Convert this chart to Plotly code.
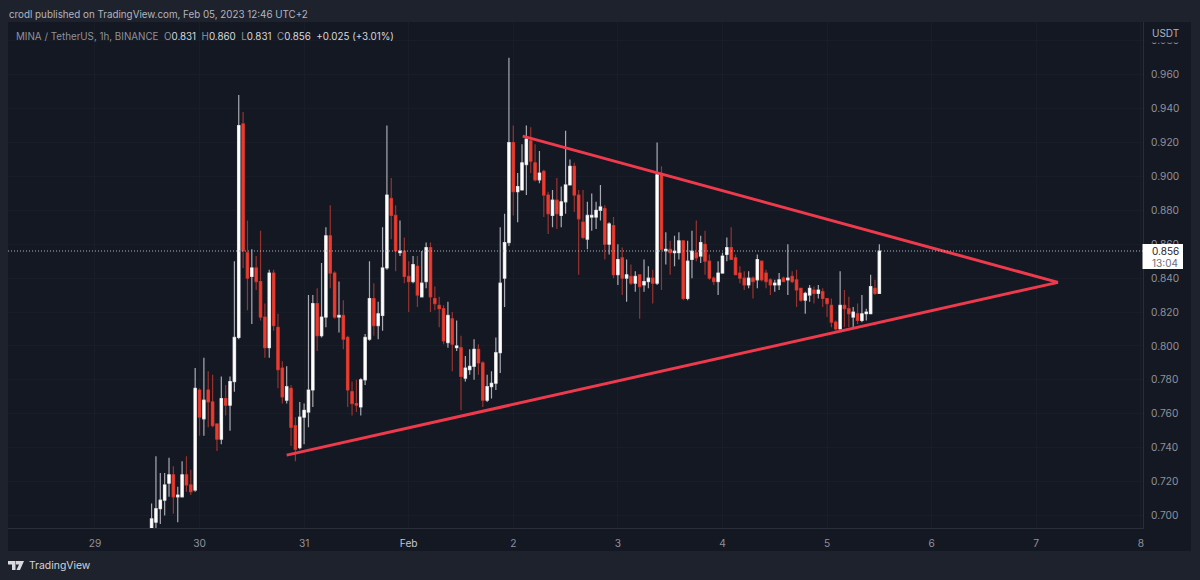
"""
MINA / USDT 1h chart with a symmetrical triangle, TradingView snapshot style.
"""
import pandas as pd
import plotly.graph_objects as go

# Candles, prices in thousandths of a USDT, one per hour
FIRST_CANDLE = "2023-01-29 13:00"
opens = [
    691, 696, 704, 709, 719, 724, 711, 711, 724, 718, 715, 774, 757, 774, 767, 754, 745, 769, 765, 779,
    805, 931, 855, 841, 846, 838, 817, 799, 843, 811, 787, 768, 775, 753, 740, 758, 761, 774, 825, 806,
    817, 865, 843, 817, 818, 805, 773, 766, 764, 780, 804, 828, 812, 818, 846, 887, 877, 855, 856, 841,
    838, 847, 829, 838, 858, 828, 824, 822, 802, 816, 799, 799, 781, 786, 788, 798, 790, 768, 776, 778,
    796, 840, 861, 920, 891, 892, 907, 921, 908, 898, 903, 889, 877, 886, 877, 885, 895, 906, 889, 873,
    863, 876, 876, 880, 881, 860, 871, 842, 852, 840, 841, 837, 842, 836, 838, 840, 837, 901, 856, 857,
    855, 855, 862, 828, 851, 855, 853, 860, 850, 840, 838, 843, 854, 858, 852, 843, 840, 836, 840, 839,
    850, 843, 839, 836, 836, 840, 839, 841, 839, 834, 827, 830, 833, 831, 832, 828, 824, 814, 810, 824,
    822, 817, 819, 815, 819, 819, 834, 831,
]
closes = [
    698, 704, 709, 718, 724, 711, 712, 724, 718, 714, 775, 758, 768, 767, 753, 745, 769, 765, 779, 805,
    930, 856, 840, 846, 838, 817, 799, 843, 812, 786, 770, 776, 752, 739, 758, 762, 774, 825, 806, 817,
    865, 843, 817, 818, 804, 774, 766, 765, 780, 805, 828, 812, 819, 846, 889, 877, 856, 856, 841, 838,
    848, 830, 837, 858, 829, 825, 822, 803, 818, 801, 800, 782, 787, 788, 798, 790, 768, 776, 778, 796,
    837, 861, 920, 891, 894, 908, 922, 909, 898, 902, 889, 878, 886, 878, 885, 895, 906, 889, 875, 864,
    877, 877, 880, 882, 860, 872, 842, 851, 840, 842, 837, 841, 835, 838, 840, 837, 901, 857, 857, 855,
    856, 862, 828, 850, 856, 852, 861, 850, 840, 838, 843, 853, 858, 851, 842, 840, 836, 840, 838, 851,
    839, 838, 836, 837, 839, 838, 840, 838, 833, 827, 831, 834, 831, 833, 828, 825, 814, 810, 824, 822,
    819, 820, 815, 819, 820, 835, 831, 856,
]
highs = [
    707, 735, 725, 725, 734, 729, 717, 732, 735, 727, 787, 775, 793, 785, 783, 754, 782, 777, 782, 850,
    948, 938, 874, 857, 853, 868, 825, 845, 845, 819, 791, 788, 777, 758, 767, 766, 830, 830, 834, 849,
    870, 883, 844, 838, 827, 806, 779, 780, 781, 807, 850, 837, 826, 870, 930, 899, 883, 874, 864, 850,
    853, 853, 856, 861, 861, 835, 829, 824, 826, 820, 815, 806, 794, 798, 804, 801, 791, 783, 785, 805,
    870, 878, 970, 930, 902, 919, 930, 929, 919, 915, 904, 891, 892, 899, 894, 927, 910, 908, 892, 892,
    885, 890, 885, 895, 883, 873, 876, 860, 858, 851, 848, 844, 842, 851, 847, 845, 920, 906, 867, 862,
    865, 867, 862, 862, 868, 874, 865, 868, 854, 841, 850, 855, 864, 870, 854, 847, 844, 844, 841, 854,
    850, 845, 840, 839, 843, 841, 860, 844, 845, 834, 832, 836, 835, 836, 834, 828, 828, 815, 844, 833,
    829, 823, 825, 830, 822, 842, 839, 860,
]
lows = [
    688, 690, 695, 700, 711, 701, 696, 711, 714, 712, 714, 747, 747, 752, 752, 738, 742, 759, 750, 773,
    804, 846, 821, 813, 833, 815, 793, 793, 809, 775, 766, 766, 741, 732, 739, 742, 752, 764, 797, 805,
    811, 834, 816, 808, 798, 764, 759, 761, 759, 777, 803, 806, 804, 809, 845, 863, 844, 853, 837, 820,
    837, 823, 829, 834, 820, 821, 811, 801, 799, 785, 797, 762, 779, 783, 780, 783, 764, 767, 769, 774,
    784, 823, 859, 877, 873, 892, 889, 902, 897, 896, 876, 866, 870, 869, 870, 878, 895, 879, 842, 863,
    857, 868, 869, 874, 851, 854, 840, 836, 830, 826, 836, 832, 816, 832, 834, 825, 836, 833, 848, 842,
    847, 851, 827, 827, 840, 850, 849, 842, 839, 836, 830, 843, 850, 851, 842, 837, 833, 834, 828, 834,
    838, 834, 830, 832, 833, 838, 830, 837, 823, 826, 819, 826, 825, 828, 823, 817, 811, 809, 810, 811,
    811, 811, 813, 814, 815, 819, 830, 831,
]

# Triangle drawn by the author
upper_line_times = ["2023-02-02 02:10", "2023-02-07 05:00"]
upper_line_prices = [0.9238, 0.8375]
lower_line_times = ["2023-01-30 20:00", "2023-02-07 05:00"]
lower_line_prices = [0.7356, 0.8375]

LAST_PRICE = 0.856
price_ticks = [0.700, 0.720, 0.740, 0.760, 0.780, 0.800, 0.820, 0.840, 0.860,
               0.880, 0.900, 0.920, 0.940, 0.960, 0.980]
day_ticks = ["2023-01-29", "2023-01-30", "2023-01-31", "2023-02-01", "2023-02-02",
             "2023-02-03", "2023-02-04", "2023-02-05", "2023-02-06", "2023-02-07", "2023-02-08"]
day_labels = ["29", "30", "31", "<span style='color:#c4c6cc'>Feb</span>", "2", "3", "4", "5", "6", "7", "8"]

# Colours
OUTER_BG = "#1e222d"
PANEL_BG = "#141823"
GRID = "#191d28"
BORDER = "#2a2e39"
RED = "#ee3b2e"
RED_WICK = "#96332f"
WHITE_WICK = "#a9abb2"
LINE_RED = "#ee3a4c"
FONT = "Inter, Roboto, sans-serif"

# Plot frame in page pixels
LEFT, RIGHT, TOP, BOTTOM = 8, 1143, 22, 528


def paper_x(px):
    return (px - LEFT) / (RIGHT - LEFT)


def paper_y(py):
    return (BOTTOM - py) / (BOTTOM - TOP)


times = pd.date_range(FIRST_CANDLE, periods=len(opens), freq="h")
o = [v / 1000 for v in opens]
c = [v / 1000 for v in closes]

fig = go.Figure()

# Wicks first, dimmer than the bodies
fig.add_trace(go.Candlestick(
    x=times,
    open=o,
    high=[v / 1000 for v in highs],
    low=[v / 1000 for v in lows],
    close=c,
    increasing=dict(line=dict(color=WHITE_WICK, width=1.2), fillcolor=WHITE_WICK),
    decreasing=dict(line=dict(color=RED_WICK, width=1.2), fillcolor=RED_WICK),
    whiskerwidth=0,
    showlegend=False,
))

# Bodies on top, no wick of their own
fig.add_trace(go.Candlestick(
    x=times,
    open=o,
    high=[max(a, b) for a, b in zip(o, c)],
    low=[min(a, b) for a, b in zip(o, c)],
    close=c,
    increasing=dict(line=dict(color="#ffffff", width=0.4), fillcolor="#ffffff"),
    decreasing=dict(line=dict(color=RED, width=0.4), fillcolor=RED),
    whiskerwidth=0,
    showlegend=False,
))

for line_times, line_prices in [(upper_line_times, upper_line_prices), (lower_line_times, lower_line_prices)]:
    fig.add_trace(go.Scatter(
        x=line_times,
        y=line_prices,
        mode="lines",
        line=dict(color=LINE_RED, width=3),
        showlegend=False,
        hoverinfo="skip",
    ))

shapes = [
    # right scale and time scale panels
    dict(type="rect", xref="paper", yref="paper", x0=1, x1=paper_x(1191), y0=paper_y(551), y1=1,
         fillcolor=PANEL_BG, line_width=0, layer="below"),
    dict(type="rect", xref="paper", yref="paper", x0=0, x1=1, y0=paper_y(551), y1=0,
         fillcolor=PANEL_BG, line_width=0, layer="below"),
    # USDT header hides most of the top tick label
    dict(type="rect", xref="paper", yref="paper", x0=paper_x(1144), x1=paper_x(1191), y0=paper_y(42.5), y1=1,
         fillcolor=PANEL_BG, line_width=0, layer="above"),
    # last price line and its tag
    dict(type="line", xref="paper", yref="y", x0=0, x1=1, y0=LAST_PRICE, y1=LAST_PRICE,
         line=dict(color="#b2b5be", width=1, dash="1px,2px"), layer="above"),
    dict(type="rect", xref="paper", yref="paper", x0=paper_x(1142.5), x1=paper_x(1183), y0=paper_y(269), y1=paper_y(244),
         fillcolor="#ffffff", line_width=0, layer="above"),
    # TradingView logo
    dict(type="path", xref="paper", yref="paper", xsizemode="pixel", ysizemode="pixel", xanchor=0, yanchor=0,
         path="M 0 -33 L 7.5 -33 L 7.5 -42 L 4 -42 L 4 -36.5 L 0 -36.5 Z", fillcolor="#d8dae0", line_width=0, layer="above"),
    dict(type="path", xref="paper", yref="paper", xsizemode="pixel", ysizemode="pixel", xanchor=0, yanchor=0,
         path="M 8 -33 L 16 -33 L 12 -42 L 8.5 -42 L 11 -36.5 L 8 -36.5 Z", fillcolor="#d8dae0", line_width=0, layer="above"),
]

ohlc_title = (
    "<span style='color:#8f929b'>MINA / TetherUS, 1h, BINANCE&nbsp;&nbsp;O</span><span style='color:#d6d8de'>0.831</span>"
    "<span style='color:#8f929b'>&nbsp;&nbsp;H</span><span style='color:#d6d8de'>0.860</span>"
    "<span style='color:#8f929b'>&nbsp;&nbsp;L</span><span style='color:#d6d8de'>0.831</span>"
    "<span style='color:#8f929b'>&nbsp;&nbsp;C</span><span style='color:#d6d8de'>0.856</span>"
    "<span style='color:#d6d8de'>&nbsp;&nbsp;+0.025 (+3.01%)</span>"
)


def note(text, px, py, size, color, xanchor="left"):
    return dict(text=text, x=paper_x(px), y=paper_y(py), xref="paper", yref="paper", showarrow=False,
                xanchor=xanchor, yanchor="middle", font=dict(family=FONT, size=size, color=color))


annotations = [
    note("crodl published on TradingView.com, Feb 05, 2023 12:46 UTC+2", 7, 14.5, 9.8, "#b2b5be"),
    note(ohlc_title, 14, 36.5, 9.8, "#8f929b"),
    note("USDT", 1150, 33, 10, "#b2b5be"),
    note("0.856", 1150, 251, 10, "#1e222d"),
    note("13:04", 1150, 262.5, 10, "#6a6d78"),
    note("TradingView", 27, 565.5, 10.4, "#d1d4dc"),
]

fig.update_layout(
    width=1200,
    height=580,
    margin=dict(l=LEFT, r=1200 - RIGHT, t=TOP, b=580 - BOTTOM),
    paper_bgcolor=OUTER_BG,
    plot_bgcolor=PANEL_BG,
    shapes=shapes,
    annotations=annotations,
    boxgap=0.22,
    showlegend=False,
    xaxis=dict(
        type="date",
        range=["2023-01-28 04:03", "2023-02-08 00:30"],
        rangeslider=dict(visible=False),
        tickmode="array",
        tickvals=day_ticks,
        ticktext=day_labels,
        tickangle=0,
        tickfont=dict(family=FONT, size=10.2, color="#8f929b"),
        showgrid=True,
        gridcolor=GRID,
        gridwidth=1,
        showline=True,
        linecolor=BORDER,
        linewidth=1,
        zeroline=False,
        ticks="",
        ticklabelstandoff=6,
    ),
    yaxis=dict(
        side="right",
        range=[0.6926, 0.9911],
        tickmode="array",
        tickvals=price_ticks,
        tickformat=".3f",
        tickfont=dict(family=FONT, size=10.2, color="#8f929b"),
        showgrid=True,
        gridcolor=GRID,
        gridwidth=1,
        showline=True,
        linecolor=BORDER,
        linewidth=1,
        zeroline=False,
        ticks="",
        ticklabelstandoff=5,
    ),
)

# Page margin would shift the fixed-size figure off the window
fig.write_html("out.html", config={"displayModeBar": False}, post_script="document.body.style.margin='0';")
